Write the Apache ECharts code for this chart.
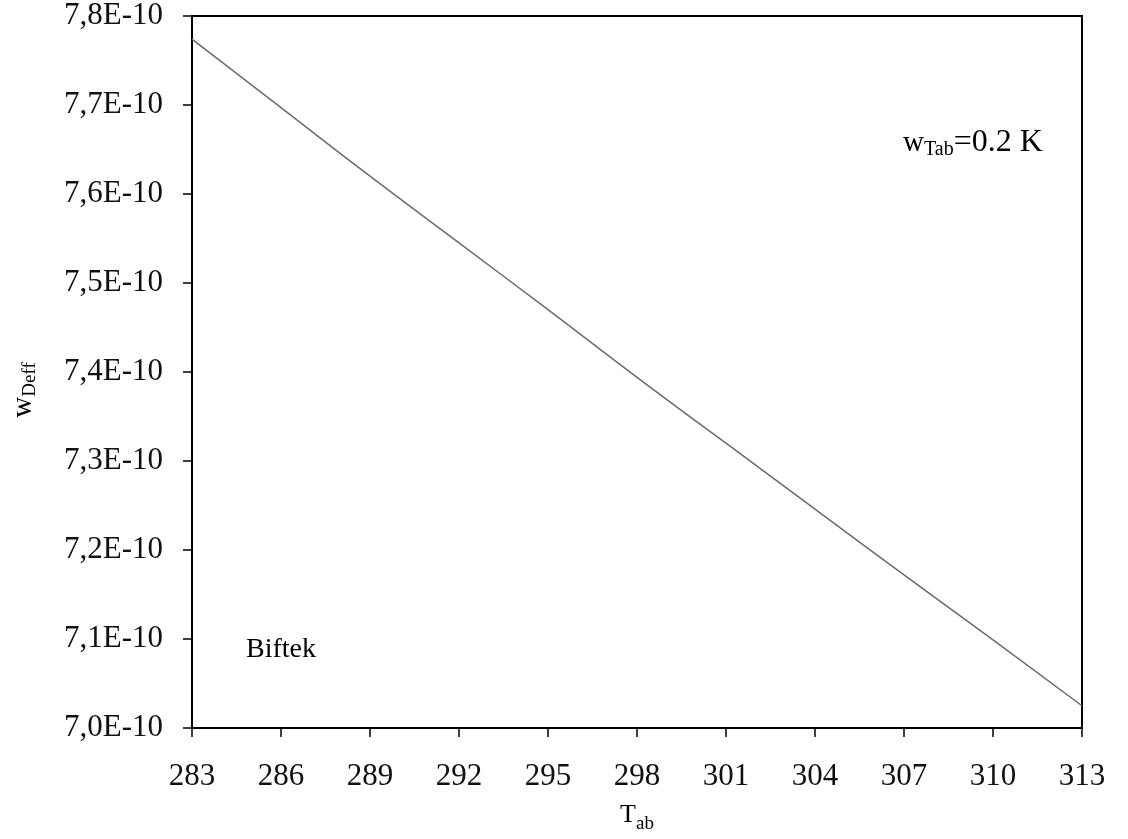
<!DOCTYPE html>
<html>
<head>
<meta charset="utf-8">
<script src="https://cdn.jsdelivr.net/npm/echarts@6/dist/echarts.min.js"></script>
<style>
  html, body { margin: 0; padding: 0; background: #fff; }
  #chart { width: 1128px; height: 839px; }
</style>
</head>
<body>
<div id="chart"></div>
<script>
// Absorber temperature T_ab (K)
const temperatures = [283, 286, 289, 292, 295, 298, 301, 304, 307, 310, 313];
// Effective diffusivity w_Deff, in units of 1E-10
const wDeff = [7.774, 7.697, 7.620, 7.545, 7.470, 7.394, 7.320, 7.246, 7.172, 7.099, 7.025];
const yTicks = { min: 7.0, max: 7.8, step: 0.1 };
const xTicks = { min: 283, max: 313, step: 3 };
const productLabel = 'Biftek';
const paramLabel = { name: 'w', sub: 'Tab', value: '=0.2 K' };
const yTitle = { name: 'w', sub: 'Deff' };
const xTitle = { name: 'T', sub: 'ab' };

const serif = '"Liberation Serif", "Times New Roman", serif';
const chart = echarts.init(document.getElementById('chart'));

chart.setOption({
  animation: false,
  backgroundColor: '#fff',
  grid: {
    left: 192, right: 46, top: 16, bottom: 111,
    show: true, borderColor: '#000', borderWidth: 2, backgroundColor: 'transparent'
  },
  xAxis: {
    type: 'value',
    min: xTicks.min, max: xTicks.max, interval: xTicks.step,
    axisLine: { show: true, onZero: false, lineStyle: { color: '#000', width: 2 } },
    axisTick: { show: true, inside: false, length: 9, lineStyle: { color: '#000', width: 1.5 } },
    splitLine: { show: false },
    axisLabel: { color: '#111', fontFamily: serif, fontSize: 31, margin: 33 },
    name: '{a|' + xTitle.name + '}{b|' + xTitle.sub + '}',
    nameLocation: 'middle',
    nameGap: 68,
    nameTextStyle: {
      rich: {
        a: { fontFamily: serif, fontSize: 26, color: '#000' },
        b: { fontFamily: serif, fontSize: 19, color: '#000', padding: [19, 0, 0, 0] }
      }
    }
  },
  yAxis: {
    type: 'value',
    min: yTicks.min, max: yTicks.max, interval: yTicks.step,
    axisLine: { show: true, onZero: false, lineStyle: { color: '#000', width: 2 } },
    axisTick: { show: true, inside: false, length: 9, lineStyle: { color: '#000', width: 1.5 } },
    splitLine: { show: false },
    axisLabel: {
      color: '#111', fontFamily: serif, fontSize: 31, margin: 29,
      formatter: v => v.toFixed(1).replace('.', ',') + 'E-10'
    }
  },
  series: [{
    type: 'line',
    data: temperatures.map((t, i) => [t, wDeff[i]]),
    showSymbol: false,
    smooth: true,
    lineStyle: { color: '#6b6b6b', width: 1.5 }
  }],
  graphic: [
    {
      type: 'text', x: 23, y: 390, rotation: Math.PI / 2,
      style: {
        text: '{a|' + yTitle.name + '}{b|' + yTitle.sub + '}',
        align: 'center', verticalAlign: 'middle',
        rich: {
          a: { fontFamily: serif, fontSize: 29, fill: '#000' },
          b: { fontFamily: serif, fontSize: 19, fill: '#000', padding: [14, 0, 0, 0] }
        }
      }
    },
    {
      type: 'text', left: 246, top: 636,
      style: { text: productLabel, fontFamily: serif, fontSize: 28, fill: '#000' }
    },
    {
      type: 'text', left: 903, top: 127,
      style: {
        text: '{a|' + paramLabel.name + '}{b|' + paramLabel.sub + '}{c|' + paramLabel.value + '}',
        rich: {
          a: { fontFamily: serif, fontSize: 29, fill: '#000' },
          b: { fontFamily: serif, fontSize: 20, fill: '#000', padding: [14, 0, 0, 0] },
          c: { fontFamily: serif, fontSize: 32, fill: '#000' }
        }
      }
    }
  ]
});
</script>
</body>
</html>
